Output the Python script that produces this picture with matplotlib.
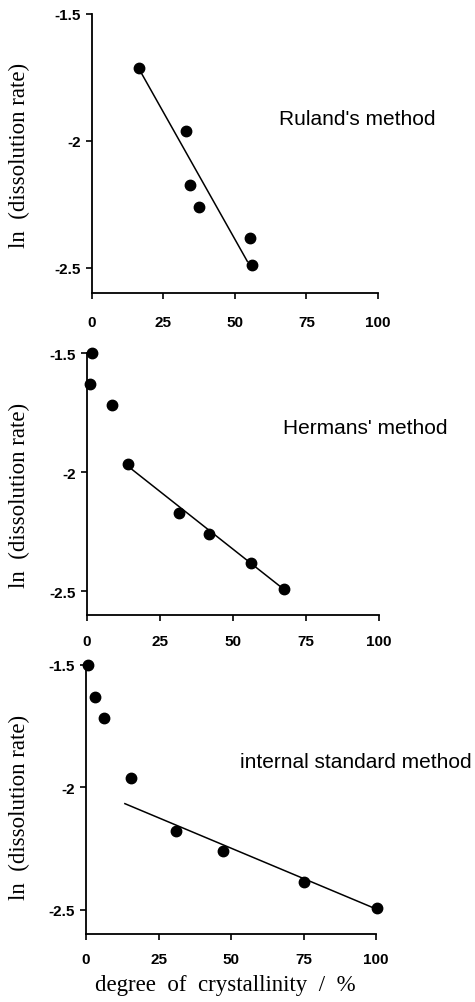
"""
ln(dissolution rate) vs degree of crystallinity, three methods
"""
import matplotlib
matplotlib.use('Agg')
import matplotlib.pyplot as plt

# Ruland's method
ruland_x = [16.4, 32.9, 34.2, 37.5, 55.2, 56.0]
ruland_y = [-1.713, -1.961, -2.175, -2.262, -2.385, -2.488]
ruland_fit_x = [16.8, 54.3]
ruland_fit_y = [-1.724, -2.475]

# Hermans' method
hermans_x = [1.6, 1.0, 8.5, 13.9, 31.4, 41.9, 56.3, 67.4]
hermans_y = [-1.5, -1.63, -1.718, -1.964, -2.172, -2.26, -2.383, -2.49]
hermans_fit_x = [13.9, 67.1]
hermans_fit_y = [-1.974, -2.489]

# internal standard method
internal_x = [0.8, 3.1, 6.1, 15.5, 30.9, 47.2, 75.1, 100.2]
internal_y = [-1.5, -1.629, -1.715, -1.963, -2.177, -2.262, -2.388, -2.495]
internal_fit_x = [13.4, 99.3]
internal_fit_y = [-2.067, -2.494]

xticks = [0, 25, 50, 75, 100]
yticks = [-1.5, -2, -2.5]
yticklabels = ['-1.5', '-2', '-2.5']

panels = [
    (ruland_x, ruland_y, ruland_fit_x, ruland_fit_y, "Ruland's method",
     [0.1937, 0.7069, 0.602, 0.2782], (92.7, -1.911), 155, 12),
    (hermans_x, hermans_y, hermans_fit_x, hermans_fit_y, "Hermans' method",
     [0.1832, 0.3858, 0.6147, 0.2612], (95.4, -1.812), 495, 10),
    (internal_x, internal_y, internal_fit_x, internal_fit_y, "internal standard method",
     [0.1811, 0.0678, 0.6105, 0.2682], (93.1, -1.895), 807, 9),
]

fig = plt.figure(figsize=(4.75, 10.03), dpi=100)

for x, y, fx, fy, name, rect, txt, ylab_y, xpad in panels:
    ax = fig.add_axes(rect)
    ax.plot(fx, fy, c='k', lw=1.1, ls='-')
    ax.plot(x, y, 'o', c='k', ms=7.5, clip_on=False)
    ax.set_xlim(0, 100)
    ax.set_ylim(-2.6, -1.5)
    ax.set_xticks(xticks)
    ax.set_yticks(yticks)
    ax.set_yticklabels(yticklabels)
    for s in ['top', 'right']:
        ax.spines[s].set_visible(False)
    for s in ['left', 'bottom']:
        ax.spines[s].set_linewidth(1.3)
    ax.tick_params(direction='out', length=4, width=1.2, labelsize=11)
    ax.tick_params(axis='x', pad=xpad)
    ax.tick_params(axis='y', pad=4)
    for lab in ax.get_xticklabels() + ax.get_yticklabels():
        lab.set_fontfamily('Liberation Sans')
        lab.set_fontweight('bold')
    ax.text(txt[0], txt[1], name, ha='center', va='center',
            fontsize=15, family='Liberation Sans')
    fig.text(19 / 475, 1 - ylab_y / 1003, 'ln  (dissolution rate)', rotation=90,
             ha='center', va='center', fontsize=16.5, family='Liberation Serif')

fig.text(225 / 475, 1 - 985 / 1003, 'degree  of  crystallinity  /  %',
         ha='center', va='center', fontsize=16.5, family='Liberation Serif')

fig.savefig('out.png', dpi=100)
